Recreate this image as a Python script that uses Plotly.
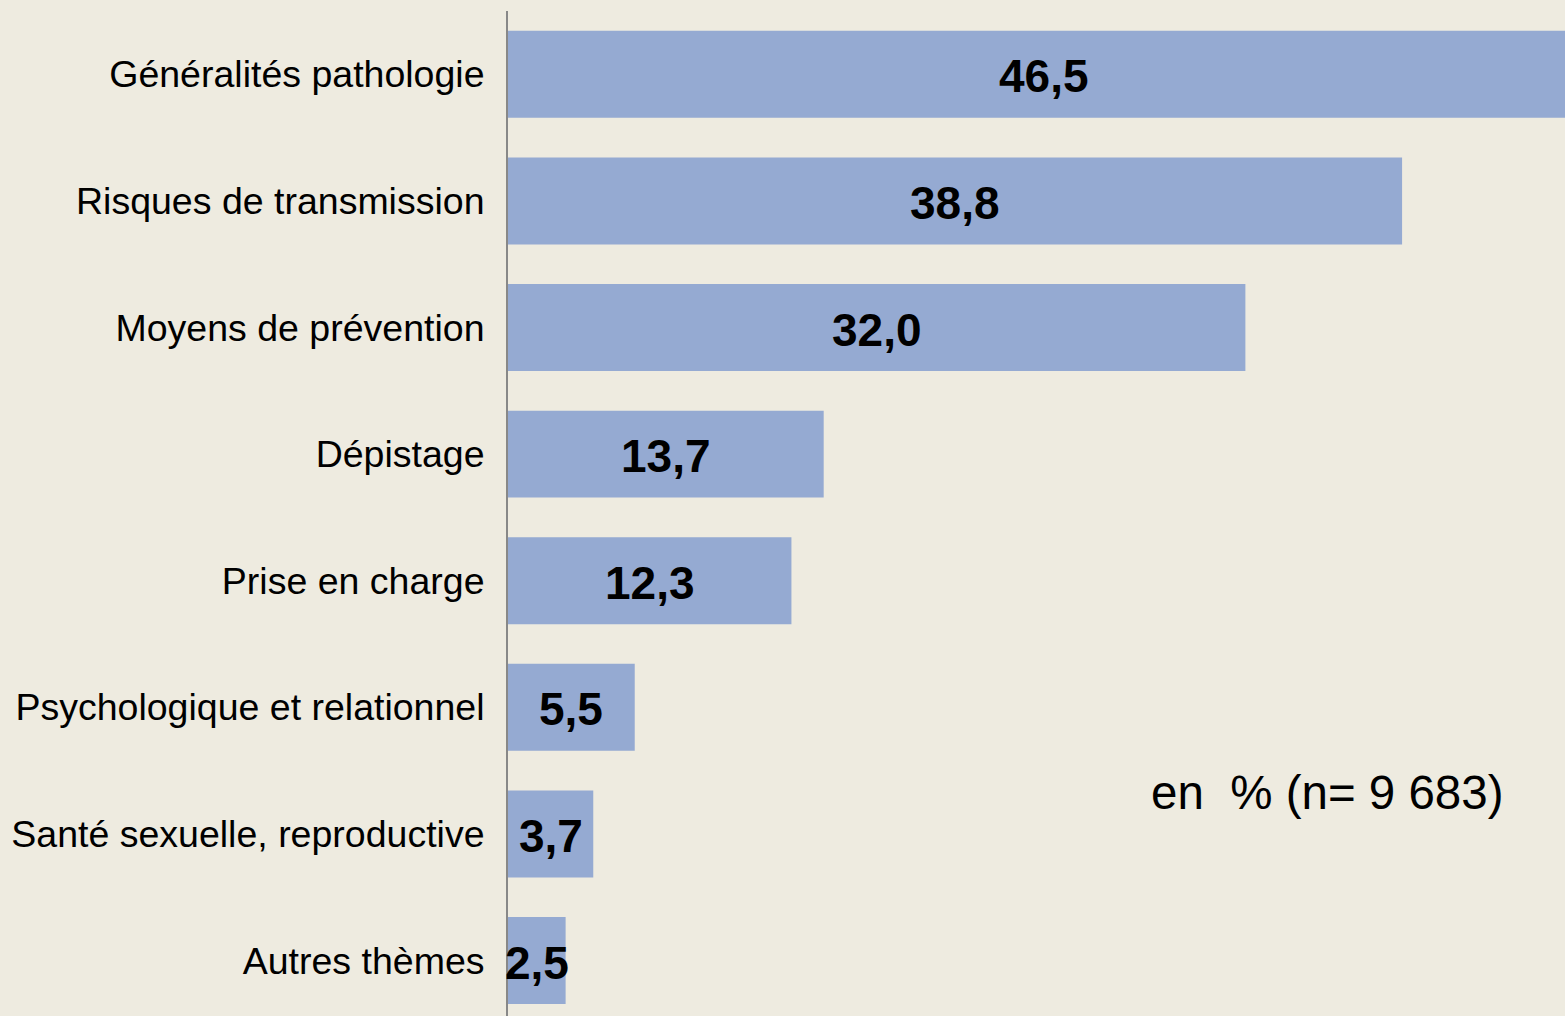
import plotly.graph_objects as go

categories = [
    "Généralités pathologie",
    "Risques de transmission",
    "Moyens de prévention",
    "Dépistage",
    "Prise en charge",
    "Psychologique et relationnel",
    "Santé sexuelle, reproductive",
    "Autres thèmes",
]
values = [46.5, 38.8, 32.0, 13.7, 12.3, 5.5, 3.7, 2.5]
value_labels = ["46,5", "38,8", "32,0", "13,7", "12,3", "5,5", "3,7", "2,5"]
note = "en\u00a0 % (n= 9 683)"

BG = "#EEEBE0"
BAR = "#95AAD2"
FONT = "Arial, Liberation Sans, sans-serif"

fig = go.Figure()
fig.add_trace(go.Bar(
    x=values, y=categories, orientation="h",
    marker=dict(color=BAR, line=dict(width=0)),
    width=0.687, hoverinfo="skip",
))

for c, v, t in zip(categories, values, value_labels):
    fig.add_annotation(x=v / 2, y=c, xref="x", yref="y", text=f"<b>{t}</b>",
                       showarrow=False, yshift=-2,
                       font=dict(family=FONT, size=46, color="black"))

fig.add_annotation(x=0.775, y=0.222, xref="paper", yref="paper", text=note,
                   showarrow=False, xanchor="center", yanchor="middle",
                   font=dict(family=FONT, size=47.5, color="black"))

fig.update_layout(
    width=1565, height=1016,
    margin=dict(l=508, r=0, t=11, b=0),
    paper_bgcolor=BG, plot_bgcolor=BG,
    showlegend=False,
    font=dict(family=FONT, color="black"),
)
fig.update_xaxes(range=[0, 45.87], visible=False, showgrid=False, zeroline=False)
fig.update_yaxes(
    categoryorder="array", categoryarray=categories,
    range=[7.438, -0.5],
    showgrid=False, zeroline=False,
    showline=True, linecolor="#888888", linewidth=2,
    ticks="", ticklabelstandoff=14,
    tickfont=dict(family=FONT, size=37.5, color="black"),
)

fig.write_html(
    "out.html",
    config={"displayModeBar": False},
    post_script="document.body.style.margin='0';document.body.style.overflow='hidden';document.body.style.background='" + BG + "';",
)
